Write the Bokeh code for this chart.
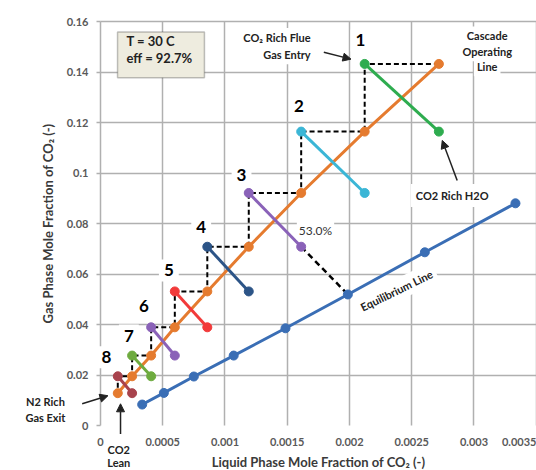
from bokeh.plotting import figure
from bokeh.models import Label, Arrow, NormalHead, BoxAnnotation, FixedTicker, Range1d
from bokeh.embed import file_html
from bokeh.resources import INLINE

# ---------------- data ----------------
# cascade operating line points (top stage first)
op_x = [0.002718, 0.002122, 0.001612, 0.001191, 0.000858, 0.000597, 0.000407, 0.000254, 0.000139]
op_y = [0.1432, 0.1164, 0.0921, 0.0708, 0.0531, 0.0389, 0.0277, 0.0195, 0.0128]
# equilibrium line points
eq_x = [0.000335, 0.000509, 0.00075, 0.00107, 0.001486, 0.001987, 0.002605, 0.003333]
eq_y = [0.0083, 0.0129, 0.0194, 0.0277, 0.0385, 0.0519, 0.0686, 0.088]
stage_names = ["1", "2", "3", "4", "5", "6", "7", "8"]
stage_colors = ["#2eac4f", "#3bb6d6", "#8a62b8", "#2c5487", "#f23a3a", "#8a62b8", "#6eab3f", "#a8434d"]
murphree_stage = 3          # stage whose efficiency is shown
murphree_eq_index = 5       # equilibrium point reached
murphree_text = "53.0%"
x_ticks = [0, 0.0005, 0.001, 0.0015, 0.002, 0.0025, 0.003, 0.0035]
x_tick_labels = ["0", "0.0005", "0.001", "0.0015", "0.002", "0.0025", "0.003", "0.0035"]
y_ticks = [0, 0.02, 0.04, 0.06, 0.08, 0.1, 0.12, 0.14, 0.16]
y_tick_labels = ["0", "0.02", "0.04", "0.06", "0.08", "0.1", "0.12", "0.14", "0.16"]

FONT = "Lato"
ORANGE = "#e57b2f"
BLUE = "#3a6eb5"
GRID = "#b0b0b0"
TXT = "#222222"

X0, X1 = x_ticks[0], x_ticks[-1]
Y0, Y1 = y_ticks[0], y_ticks[-1]

# the frame spans the whole canvas; axes sit at x=0 / y=0 so outside texts can be shown
p = figure(width=536, height=470, output_backend="svg", toolbar_location=None,
           x_range=Range1d(-0.000803, 0.003502), y_range=Range1d(-0.01782, 0.16832),
           min_border_left=0, min_border_right=0, min_border_top=0, min_border_bottom=0)
p.outline_line_color = None

# axes
p.xaxis.ticker = FixedTicker(ticks=x_ticks)
p.yaxis.ticker = FixedTicker(ticks=y_ticks)
p.xaxis.major_label_overrides = {t: l for t, l in zip(x_ticks, x_tick_labels)}
p.yaxis.major_label_overrides = {t: l for t, l in zip(y_ticks, y_tick_labels)}
p.xaxis.fixed_location = Y0
p.yaxis.fixed_location = X0
p.xaxis.bounds = (X0, X1)
p.yaxis.bounds = (Y0, Y1)
for ax in (p.xaxis, p.yaxis):
    ax.major_label_text_font = FONT
    ax.major_label_text_font_style = "bold"
    ax.major_label_text_font_size = "11px"
    ax.major_label_text_color = "#595959"
    ax.minor_tick_line_color = None
    ax.axis_label_text_font = FONT
    ax.axis_label_text_font_style = "bold"
    ax.axis_label_text_font_size = "13px"
    ax.axis_label_text_color = "#3a3a3a"
p.xaxis.axis_line_color = None
p.xaxis.major_tick_line_color = None
p.xaxis.major_tick_out = 0
p.xaxis.major_tick_in = 0
p.xaxis.major_label_standoff = 12
p.xaxis.axis_label_standoff = 5
p.yaxis.axis_line_color = GRID
p.yaxis.axis_line_width = 1.5
p.yaxis.major_tick_line_color = GRID
p.yaxis.major_tick_line_width = 1.5
p.yaxis.major_tick_out = 4
p.yaxis.major_tick_in = 0
p.yaxis.major_label_standoff = 8
p.yaxis.axis_label_standoff = 8
p.xaxis.axis_label = "Liquid Phase Mole Fraction of CO\u2082 (-)"
p.yaxis.axis_label = "Gas Phase Mole Fraction of CO\u2082 (-)"

# grid limited to the data area
p.xgrid.ticker = FixedTicker(ticks=x_ticks[1:])
p.ygrid.ticker = FixedTicker(ticks=y_ticks[1:])
try:
    p.xgrid.cross_bounds = (Y0, Y1)
    p.ygrid.cross_bounds = (X0, X1)
    p.grid.grid_line_color = GRID
    p.grid.grid_line_width = 1.5
except Exception:
    p.grid.grid_line_color = None
    p.segment(x0=x_ticks[1:], y0=[Y0] * (len(x_ticks) - 1), x1=x_ticks[1:], y1=[Y1] * (len(x_ticks) - 1),
              line_color=GRID, line_width=1.5)
    p.segment(x0=[X0] * (len(y_ticks) - 1), y0=y_ticks[1:], x1=[X1] * (len(y_ticks) - 1), y1=y_ticks[1:],
              line_color=GRID, line_width=1.5)

# dashed staircase
sx, sy = [op_x[0]], [op_y[0]]
for k in range(1, len(op_x)):
    sx += [op_x[k], op_x[k]]
    sy += [op_y[k - 1], op_y[k]]
p.line(sx, sy, line_color="black", line_width=2, line_dash="5 3")

# Murphree efficiency dashed line
m = murphree_stage
p.line([op_x[m - 1], eq_x[murphree_eq_index]], [op_y[m], eq_y[murphree_eq_index]],
       line_color="black", line_width=2.5, line_dash="6 4")

# operating line and equilibrium line
p.line(op_x, op_y, line_color=ORANGE, line_width=3)
p.scatter(op_x, op_y, size=9, fill_color=ORANGE, line_color=ORANGE)
p.line(eq_x, eq_y, line_color=BLUE, line_width=3)
p.scatter(eq_x, eq_y, size=9, fill_color=BLUE, line_color=BLUE)

# stage tie lines
for k in range(1, len(op_x)):
    xs = [op_x[k], op_x[k - 1]]
    ys = [op_y[k - 1], op_y[k]]
    c = stage_colors[k - 1]
    p.line(xs, ys, line_color=c, line_width=3)
    p.scatter(xs, ys, size=9, fill_color=c, line_color=c)

# ---------------- annotations ----------------
def lab(x, y, text, size="11px", style="bold", align="center", bg=None, angle=0, pad=2, color=TXT):
    l = Label(x=x, y=y, text=text, text_font=FONT, text_font_size=size, text_font_style=style,
              text_align=align, text_baseline="middle", text_color=color, angle=angle)
    if bg:
        l.background_fill_color = bg
        l.padding = pad
    p.add_layout(l)

def arrow(x0, y0, x1, y1):
    p.add_layout(Arrow(end=NormalHead(size=8, fill_color=TXT, line_color=TXT), line_color=TXT,
                       line_width=1.5, x_start=x0, y_start=y0, x_end=x1, y_end=y1))

# parameters box
p.add_layout(BoxAnnotation(left=0.000137, right=0.000835, top=0.1558, bottom=0.1377,
                           fill_color="#eeecdf", fill_alpha=1, line_color="#333333", line_width=1.5))
lab(0.000209, 0.1524, "T = 30 C", size="13px", align="left")
lab(0.000209, 0.1456, "eff = 92.7%", size="13px", align="left")

# stage numbers (positions of the number texts)
num_pos = [(0.002088, 0.1525), (0.001593, 0.1267), (0.001133, 0.0994), (0.000809, 0.0785),
           (0.000549, 0.0614), (0.000348, 0.0475), (0.000228, 0.0356), (0.000048, 0.027)]
for (nx, ny), t in zip(num_pos, stage_names):
    lab(nx, ny, t, size="17px", bg="white", pad=5, color="black")

lab(0.001727, 0.0772, murphree_text, size="12px", style="normal", bg="white", pad=2, color="#333333")

# flue gas entry
lab(0.001712, 0.1537, "CO\u2082 Rich Flue", align="right", bg="white", pad=3)
lab(0.001712, 0.1468, "Gas Entry", align="right", bg="white", pad=3)
arrow(0.001794, 0.1478, 0.002012, 0.1451)

# cascade operating line text
lab(0.003106, 0.1543, "Cascade", bg="white", pad=3)
lab(0.003106, 0.1480, "Operating", bg="white", pad=3)
lab(0.003106, 0.1421, "Line", bg="white", pad=3)

# CO2 rich H2O
lab(0.002825, 0.0911, "CO2 Rich H2O", bg="white", pad=5)
arrow(0.002865, 0.0970, 0.002745, 0.1129)

# equilibrium line text
lab(0.002377, 0.0535, "Equilibrium Line", size="11px", bg="white", pad=4, angle=0.454)

# N2 rich gas exit
lab(-0.000442, 0.0097, "N2 Rich")
lab(-0.000442, 0.0031, "Gas Exit")
arrow(-0.000147, 0.0086, 0.000060, 0.0118)

# CO2 lean
lab(0.000147, -0.0096, "CO2")
lab(0.000147, -0.0148, "Lean")
arrow(0.000161, -0.0034, 0.000161, 0.0086)

open("out.html", "w").write(file_html(p, INLINE))
